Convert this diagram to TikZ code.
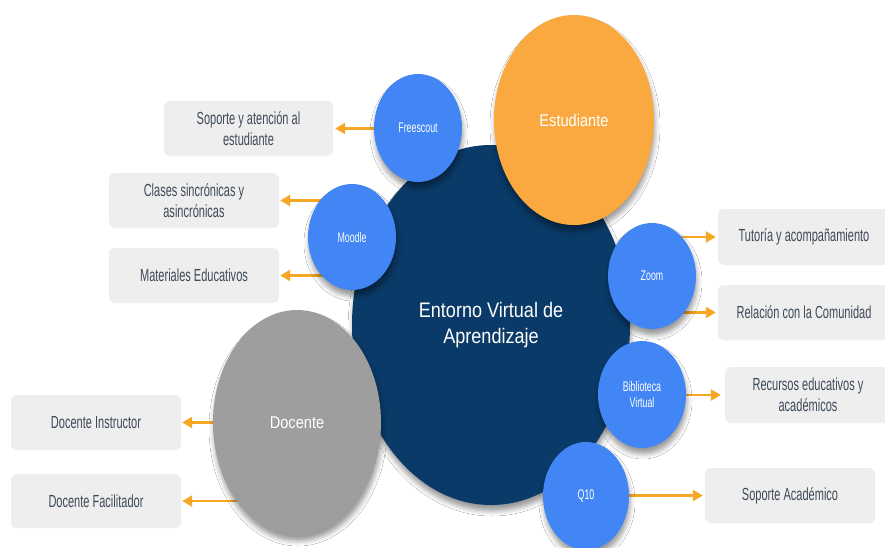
\documentclass[tikz,border=0pt]{standalone}
\usepackage{fontspec}
\setmainfont{Liberation Sans}
\newfontfamily\bigfont{Liberation Sans}[FakeStretch=0.86]
\newfontfamily\narrowfont{Liberation Sans}[FakeStretch=0.63]
\usetikzlibrary{shapes.geometric,arrows.meta,shadows.blur}
\pgfdeclarelayer{bg}
\pgfsetlayers{bg,main}
\definecolor{navy}{HTML}{0A3A68}
\definecolor{bluec}{HTML}{4285F4}
\definecolor{orangec}{HTML}{F9A93F}
\definecolor{grayc}{HTML}{9E9E9E}
\definecolor{boxc}{HTML}{EEEEEE}
\definecolor{boxtext}{HTML}{3F4A59}
\definecolor{arrowc}{HTML}{F5A623}
\tikzset{
  circ/.style={ellipse, inner sep=0pt, text=white, align=center,
    blur shadow={shadow xshift=1pt, shadow yshift=-6pt, shadow blur radius=5pt, shadow opacity=40}},
  bigcirc/.style={circ, font=\bigfont\fontsize{17pt}{20pt}\selectfont},
  smallcirc/.style={circ, fill=bluec, font=\narrowfont\fontsize{14pt}{16pt}\selectfont},
  infobox/.style={rectangle, rounded corners=6pt, fill=boxc, inner sep=0pt, align=center,
    text=boxtext, font=\narrowfont\fontsize{17.5pt}{21pt}\selectfont},
  arr/.style={draw=arrowc, line width=2.2pt, -{Triangle[length=10pt,width=11pt]}}
}
\begin{document}
\begin{tikzpicture}[x=1pt,y=-1pt]
\useasboundingbox (0,0) rectangle (885,547);
\clip (0,0) rectangle (885,547);

% boxes
\node[infobox, minimum width=169pt, minimum height=55pt] (soporte) at (248.5,128.5) {Soporte y atención al\\estudiante};
\node[infobox, minimum width=170pt, minimum height=55pt] (clases) at (194,200.5) {Clases sincrónicas y\\asincrónicas};
\node[infobox, minimum width=170pt, minimum height=55pt] (materiales) at (194,275.5) {Materiales Educativos};
\node[infobox, minimum width=170pt, minimum height=55pt] (instructor) at (96,422.5) {Docente Instructor};
\node[infobox, minimum width=170pt, minimum height=54pt] (facilitador) at (96,501) {Docente Facilitador};
\node[infobox, minimum width=172pt, minimum height=56pt] (tutoria) at (804,237) {Tutoría y acompañamiento};
\node[infobox, minimum width=172pt, minimum height=55pt] (relacion) at (804,312.5) {Relación con la Comunidad};
\node[infobox, minimum width=166pt, minimum height=56pt] (recursos) at (808,395) {Recursos educativos y\\académicos};
\node[infobox, minimum width=170pt, minimum height=55pt] (soporteacad) at (790,495.5) {Soporte Académico};

% circles
\node[circ, fill=navy, minimum width=278pt, minimum height=360pt,
  font=\bigfont\fontsize{21pt}{26pt}\selectfont] (evea) at (491,325) {Entorno Virtual de\\Aprendizaje};
\node[bigcirc, fill=orangec, minimum width=160pt, minimum height=210pt] (estudiante) at (574,120) {Estudiante};
\node[bigcirc, fill=grayc, minimum width=168pt, minimum height=225pt] (docente) at (297,422.5) {Docente};
\node[smallcirc, minimum width=88pt, minimum height=108pt] (freescout) at (418,128) {Freescout};
\node[smallcirc, minimum width=88pt, minimum height=106pt] (moodle) at (352,237) {Moodle};
\node[smallcirc, minimum width=88pt, minimum height=106pt] (zoom) at (652,276) {Zoom};
\node[smallcirc, minimum width=88pt, minimum height=107pt] (biblio) at (642,394.5) {Biblioteca\\Virtual};
\node[smallcirc, minimum width=86pt, minimum height=108pt] (qdiez) at (586,496) {Q10};

% connectors
\begin{pgfonlayer}{bg}
\fill[white] (0,0) rectangle (885,547);
\draw[arr, shorten >=2pt] (freescout.center |- soporte.east) -- (soporte.east);
\draw[arr, shorten >=1pt] (moodle.center |- clases.east) -- (clases.east);
\draw[arr, shorten >=1pt] (moodle.center |- materiales.east) -- (materiales.east);
\draw[arr, shorten >=1pt] (docente.center |- instructor.east) -- (instructor.east);
\draw[arr, shorten >=1pt] (docente.center |- facilitador.east) -- (facilitador.east);
\draw[arr, shorten >=2pt] (zoom.center |- tutoria.west) -- (tutoria.west);
\draw[arr, shorten >=2pt] (zoom.center |- relacion.west) -- (relacion.west);
\draw[arr, shorten >=4pt] (biblio.center |- recursos.west) -- (recursos.west);
\draw[arr, shorten >=2pt] (qdiez.center |- soporteacad.west) -- (soporteacad.west);
\end{pgfonlayer}
\end{tikzpicture}
\end{document}
